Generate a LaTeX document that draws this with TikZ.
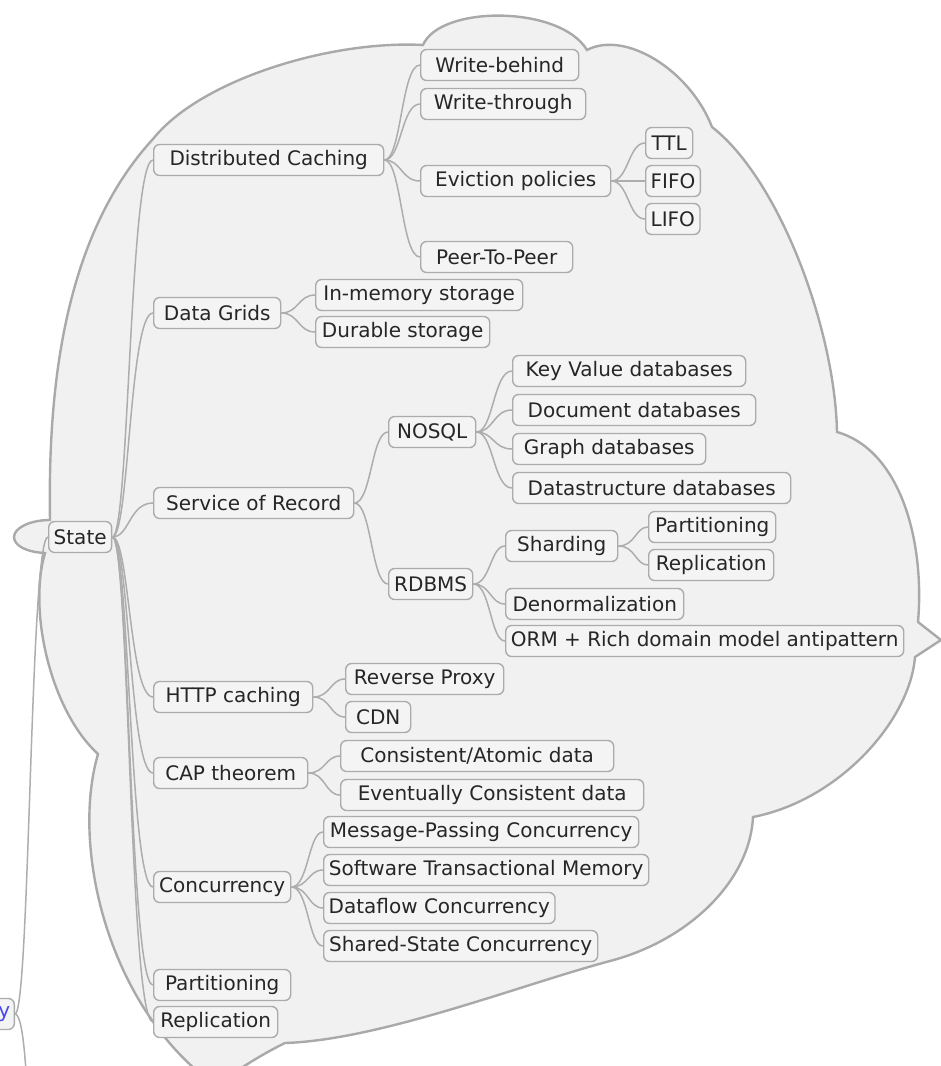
\documentclass[tikz,border=0pt]{standalone}
\usepackage{fontspec}
\setmainfont{DejaVu Sans}
\usetikzlibrary{calc}
\definecolor{cloudfill}{HTML}{F1F1F1}
\definecolor{cloudline}{HTML}{A9A9A9}
\definecolor{boxfill}{HTML}{F4F4F4}
\definecolor{boxline}{HTML}{ABABAB}
\definecolor{linkline}{HTML}{ADADAD}
\definecolor{ink}{HTML}{262626}
\definecolor{linkblue}{HTML}{4646F0}
\begin{document}
\begin{tikzpicture}[x=1pt,y=-1pt,
  topic/.style={draw=boxline, fill=boxfill, line width=1.4pt, rounded corners=6pt,
    text=ink, font=\fontsize{20}{23}\selectfont, inner xsep=5pt, inner ysep=0pt,
    minimum height=31pt, anchor=west},
  conn/.style={draw=linkline, line width=1.5pt},
  boundary/.style={draw=cloudline, fill=cloudfill, line width=2.4pt, line join=miter}]
\useasboundingbox (0,0) rectangle (941,1066);
\clip (0,0) rectangle (941,1066);

% boundary around the "State" subtree
\path[boundary]
  (50,520) .. controls (48,400) and (60,240) .. (153,139)
  .. controls (200,80) and (330,40) .. (423,45)
  .. controls (440,5) and (560,5) .. (587,50)
  .. controls (625,30) and (690,70) .. (712,127)
  .. controls (780,180) and (835,330) .. (837,432)
  .. controls (900,450) and (925,540) .. (918,622)
  -- (941,640) -- (915,657)
  .. controls (910,720) and (840,800) .. (753,817)
  .. controls (750,880) and (690,940) .. (610,961)
  .. controls (520,985) and (380,1040) .. (285,1043)
  .. controls (260,1055) and (235,1072) .. (215,1085)
  .. controls (110,1010) and (70,850) .. (98,754)
  .. controls (50,710) and (28,610) .. (45,553)
  .. controls (25,552) and (14,545) .. (14,537)
  .. controls (14,528) and (30,520) .. (50,520) -- cycle;

% topics
\node[topic] (state) at (48,537) {State};

\node[topic, minimum width=230] (dc)   at (153,160)  {Distributed Caching};
\node[topic, minimum width=127] (dg)   at (153,313)  {Data Grids};
\node[topic, minimum width=200] (sor)  at (153,503)  {Service of Record};
\node[topic, minimum width=159] (http) at (153,697)  {HTTP caching};
\node[topic, minimum width=154] (cap)  at (153,773)  {CAP theorem};
\node[topic, minimum width=137] (conc) at (153,887)  {Concurrency};
\node[topic, minimum width=137] (part) at (153,985)  {Partitioning};
\node[topic, minimum width=124] (repl) at (153,1022) {Replication};

\node[topic, minimum width=158] (wb)  at (420,65)  {Write-behind};
\node[topic, minimum width=165] (wt)  at (420,104) {Write-through};
\node[topic, minimum width=190] (ev)  at (420,181) {Eviction policies};
\node[topic, minimum width=152] (p2p) at (420,257) {Peer-To-Peer};
\node[topic, minimum width=47]  (ttl)  at (645,143) {TTL};
\node[topic, minimum width=50]  (fifo) at (645,181) {FIFO};
\node[topic, minimum width=52]  (lifo) at (645,219) {LIFO};

\node[topic, minimum width=207] (inmem) at (315,295) {In-memory storage};
\node[topic, minimum width=174] (dur)   at (315,332) {Durable storage};

\node[topic, minimum width=87]  (nosql) at (388,432) {NOSQL};
\node[topic, minimum width=84]  (rdbms) at (388,584) {RDBMS};
\node[topic, minimum width=233] (kv)    at (512,371) {Key Value databases};
\node[topic, minimum width=243] (doc)   at (512,410) {Document databases};
\node[topic, minimum width=193] (graph) at (512,449) {Graph databases};
\node[topic, minimum width=278] (ds)    at (512,488) {Datastructure databases};
\node[topic, minimum width=112] (shard) at (505,546) {Sharding};
\node[topic, minimum width=178] (denorm) at (505,604) {Denormalization};
\node[topic, minimum width=398] (orm)   at (505,641) {ORM + Rich domain model antipattern};
\node[topic, minimum width=127] (spart) at (648,527) {Partitioning};
\node[topic, minimum width=125] (srepl) at (648,565) {Replication};

\node[topic, minimum width=158] (rp)  at (345,679) {Reverse Proxy};
\node[topic, minimum width=65]  (cdn) at (345,717) {CDN};
\node[topic, minimum width=273] (cad) at (340,756) {Consistent/Atomic data};
\node[topic, minimum width=303] (ecd) at (340,795) {Eventually Consistent data};
\node[topic, minimum width=315] (mpc) at (323,832) {Message-Passing Concurrency};
\node[topic, minimum width=325] (stm) at (323,870) {Software Transactional Memory};
\node[topic, minimum width=230] (dfc) at (323,908) {Dataflow Concurrency};
\node[topic, minimum width=274] (ssc) at (323,946) {Shared-State Concurrency};

% sibling topic at the left edge, mostly outside the frame
\node[topic, anchor=east, text width=40pt, align=right, inner xsep=4pt,
      text=linkblue] (upper) at (15,1014) {y};
\coordinate (lower) at (32,1300);

% branches
\foreach \p/\c in {state/dc, state/dg, state/sor, state/http, state/cap, state/conc,
    state/part, state/repl,
    dc/wb, dc/wt, dc/ev, dc/p2p, ev/ttl, ev/fifo, ev/lifo,
    dg/inmem, dg/dur,
    sor/nosql, sor/rdbms, nosql/kv, nosql/doc, nosql/graph, nosql/ds,
    rdbms/shard, rdbms/denorm, rdbms/orm, shard/spart, shard/srepl,
    http/rp, http/cdn, cap/cad, cap/ecd,
    conc/mpc, conc/stm, conc/dfc, conc/ssc}
  \draw[conn] (\p.east) .. controls +(17,0) and ($(\p.east |- \c.west)+(17,0)$) .. (\c.west);

\draw[conn] (upper.east) .. controls +(15,0) and ($(upper.east |- state.west)+(15,0)$) .. (state.west);
\draw[conn] (upper.east) .. controls +(15,0) and (30,1200) .. (lower);
\end{tikzpicture}
\end{document}
